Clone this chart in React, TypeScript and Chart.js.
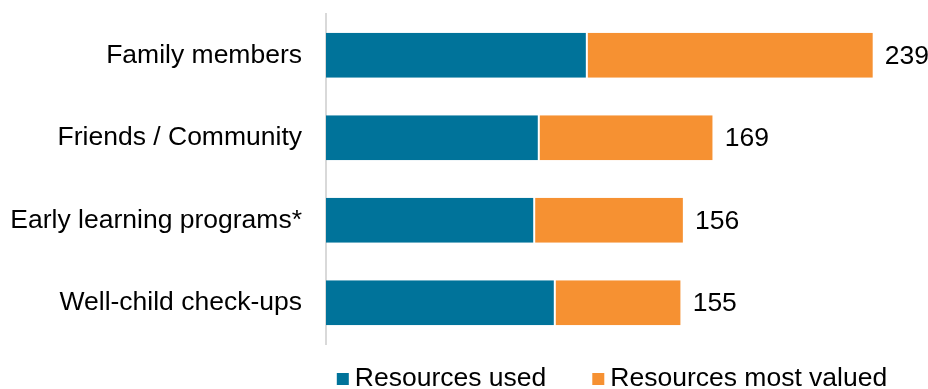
import React, { useEffect, useRef } from "react";
import { Chart, registerables } from "chart.js";

Chart.register(...registerables);

const categories = [
  "Family members",
  "Friends / Community",
  "Early learning programs*",
  "Well-child check-ups",
];
const resourcesUsed = [114, 93, 91, 100];
const resourcesMostValued = [125, 76, 65, 55];
const seriesLabels = ["Resources used", "Resources most valued"];
const seriesColors = ["#00739A", "#F69132"];

const FONT = "Arial, 'Liberation Sans', sans-serif";
const FONT_SIZE = 26.5;

const totalsPlugin = {
  id: "totals",
  afterDatasetsDraw(chart: any) {
    const ctx = chart.ctx;
    const meta = chart.getDatasetMeta(chart.data.datasets.length - 1);
    ctx.save();
    ctx.font = `${FONT_SIZE}px ${FONT}`;
    ctx.fillStyle = "#000";
    ctx.textAlign = "left";
    ctx.textBaseline = "middle";
    meta.data.forEach((bar: any, i: number) => {
      const total = chart.data.datasets.reduce(
        (s: number, d: any) => s + (d.data[i] as number),
        0
      );
      ctx.fillText(String(total), bar.x + 12, bar.y + 1);
    });
    ctx.restore();
  },
};

const legendPlugin = {
  id: "customLegend",
  afterDraw(chart: any) {
    const ctx = chart.ctx;
    const area = chart.chartArea;
    ctx.save();
    ctx.font = `${FONT_SIZE}px ${FONT}`;
    ctx.textBaseline = "middle";
    const box = 12;
    const gapBoxText = 6;
    const gapItems = 46;
    const items = chart.data.datasets.map((d: any) => ({
      label: d.label,
      color: d.backgroundColor,
      w: ctx.measureText(d.label).width,
    }));
    const total =
      items.reduce((s: number, it: any) => s + box + gapBoxText + it.w, 0) +
      gapItems * (items.length - 1);
    let x = (area.left + area.right) / 2 - total / 2;
    const y = 378;
    items.forEach((it: any) => {
      ctx.fillStyle = it.color;
      ctx.fillRect(x, y - box / 2 + 1, box, box);
      x += box + gapBoxText;
      ctx.fillStyle = "#000";
      ctx.fillText(it.label, x, y + 1);
      x += it.w + gapItems;
    });
    ctx.restore();
  },
};

export default function App() {
  const ref = useRef<HTMLCanvasElement | null>(null);

  useEffect(() => {
    if (!ref.current) return;
    const chart = new Chart(ref.current, {
      type: "bar",
      data: {
        labels: categories,
        datasets: [
          {
            label: seriesLabels[0],
            data: resourcesUsed,
            backgroundColor: seriesColors[0],
            borderColor: "#ffffff",
            borderWidth: { top: 0, bottom: 0, left: 0, right: 1 },
            borderSkipped: false,
            categoryPercentage: 1,
            barPercentage: 0.545,
          },
          {
            label: seriesLabels[1],
            data: resourcesMostValued,
            backgroundColor: seriesColors[1],
            borderColor: "#ffffff",
            borderWidth: { top: 0, bottom: 0, left: 1, right: 0 },
            borderSkipped: false,
            categoryPercentage: 1,
            barPercentage: 0.545,
          },
        ],
      },
      options: {
        indexAxis: "y",
        animation: false,
        responsive: true,
        maintainAspectRatio: false,
        layout: { padding: { top: 14, bottom: 45, left: 0, right: 30 } },
        plugins: {
          legend: { display: false },
          tooltip: { enabled: false },
        },
        scales: {
          x: {
            stacked: true,
            display: false,
            min: 0,
            max: 250,
          },
          y: {
            stacked: true,
            grid: { display: false, drawTicks: false },
            border: { display: true, color: "#d9d9d9", width: 2 },
            ticks: {
              color: "#000",
              padding: 24,
              font: { family: FONT, size: FONT_SIZE },
            },
            afterFit(scale: any) {
              scale.width = 326;
              scale.paddingTop = 0;
              scale.paddingBottom = 0;
            },
          },
        },
      },
      plugins: [totalsPlugin, legendPlugin],
    });
    return () => chart.destroy();
  }, []);

  return (
    <div
      style={{
        position: "absolute",
        left: 0,
        top: 0,
        width: 928,
        height: 389,
        background: "#fff",
      }}
    >
      <canvas ref={ref} />
    </div>
  );
}
